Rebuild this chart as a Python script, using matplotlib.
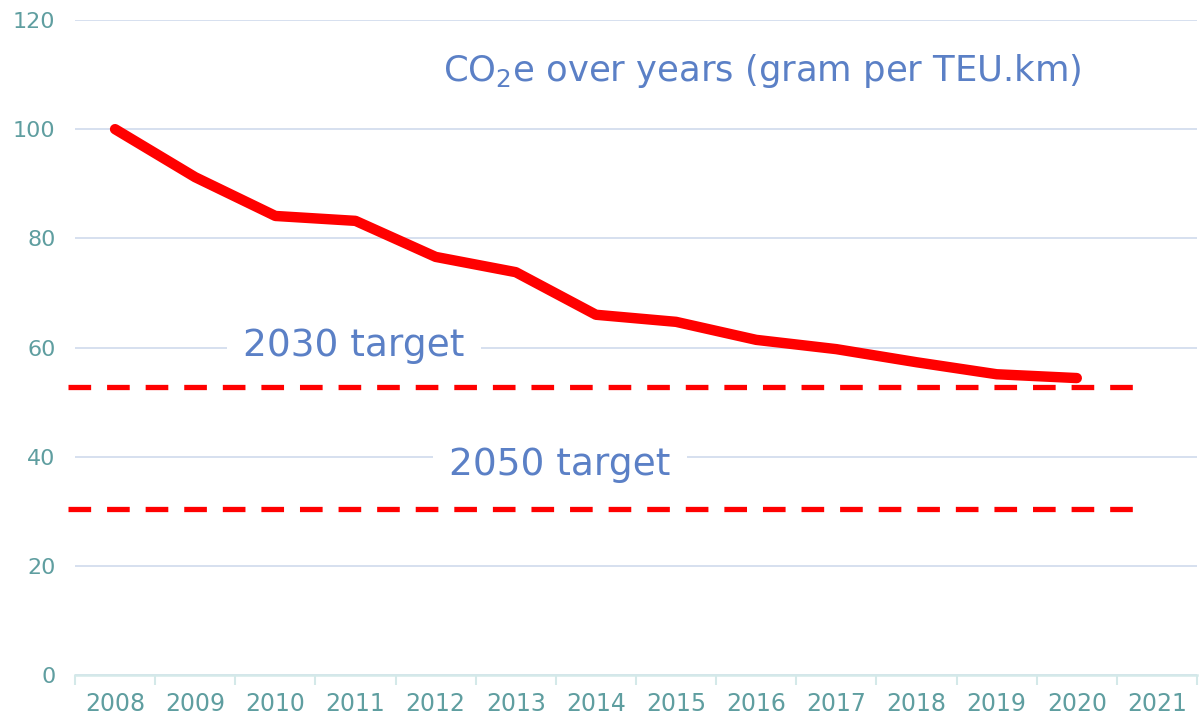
import matplotlib.pyplot as plt

years = ['2008', '2009', '2010', '2011', '2012', '2013', '2014',
         '2015', '2016', '2017', '2018', '2019', '2020', '2021']
co2e = [100.0, 91.2, 84.1, 83.2, 76.6, 73.8, 66.0,
        64.7, 61.4, 59.7, 57.3, 55.1, 54.4]
target_2030 = 52.7
target_2050 = 30.4

plt.rcParams['font.family'] = ['DejaVu Sans']
plt.rcParams['mathtext.fontset'] = 'dejavusans'

tick_col = '#5f9ea0'
text_col = '#5b80c6'

fig = plt.figure(figsize=(12.03, 7.28), dpi=100)
ax = fig.add_axes([75 / 1203, 1 - 675 / 728, 1122 / 1203, 655 / 728])

x = list(range(len(years)))
ax.set_xlim(-0.5, len(years) - 0.5)
ax.set_ylim(0, 120)

# ── target lines ─────────────────────────────────────────────────────────────
for val in (target_2030, target_2050):
    ax.plot([-0.584, 12.727], [val, val], color='#ff0000', lw=3.8,
            dashes=(4.29, 3.02), solid_capstyle='butt', dash_capstyle='butt',
            zorder=3, clip_on=False)

# ── main series ──────────────────────────────────────────────────────────────
ax.plot(x[:len(co2e)], co2e, color='#ff0000', lw=7.5,
        solid_capstyle='round', solid_joinstyle='round', zorder=4)

# ── labels ───────────────────────────────────────────────────────────────────
box = dict(facecolor='white', edgecolor='none', pad=12)
ax.text(2.98, 60.3, '2030 target', color=text_col, fontsize=27,
        ha='center', va='center', bbox=box, zorder=2)
ax.text(5.55, 38.5, '2050 target', color=text_col, fontsize=27,
        ha='center', va='center', bbox=box, zorder=2)
ax.text(8.08, 110.6, r'CO$_2$e over years (gram per TEU.km)', color=text_col,
        fontsize=25.5, ha='center', va='center', zorder=2)

# ── axes styling ─────────────────────────────────────────────────────────────
ax.set_yticks(range(0, 121, 20))
ax.yaxis.grid(True, color='#d6e0ef', lw=1.4, zorder=0)
ax.set_axisbelow(True)
ax.set_xticks(x)
ax.set_xticklabels(years)
ax.set_xticks([i - 0.5 for i in range(len(years) + 1)], minor=True)
ax.tick_params(axis='x', which='major', length=0, pad=12, labelsize=17,
               labelcolor=tick_col)
ax.tick_params(axis='x', which='minor', length=7, width=1.5, color='#d4e9e9',
               direction='out')
ax.tick_params(axis='y', length=0, pad=14, labelsize=16, labelcolor=tick_col)
for s in ('top', 'right', 'left'):
    ax.spines[s].set_visible(False)
ax.spines['bottom'].set_color('#d4e9e9')
ax.spines['bottom'].set_linewidth(1.8)

fig.savefig('out.png', dpi=100)
